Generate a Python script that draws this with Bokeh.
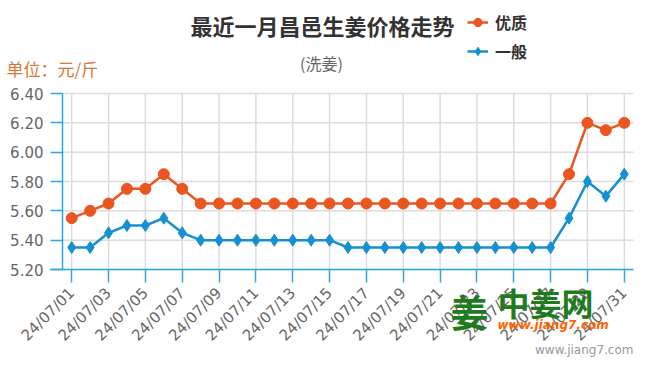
import math
from bokeh.plotting import figure
from bokeh.models import (Range1d, FixedTicker, Label, Legend, LegendItem,
                          NumeralTickFormatter, LinearAxis)
from bokeh.embed import file_html
from bokeh.resources import INLINE

# ---- data ----
dates = ["24/07/01", "24/07/02", "24/07/03", "24/07/04", "24/07/05", "24/07/06",
         "24/07/07", "24/07/08", "24/07/09", "24/07/10", "24/07/11", "24/07/12",
         "24/07/13", "24/07/14", "24/07/15", "24/07/16", "24/07/17", "24/07/18",
         "24/07/19", "24/07/20", "24/07/21", "24/07/22", "24/07/23", "24/07/24",
         "24/07/25", "24/07/26", "24/07/27", "24/07/28", "24/07/29", "24/07/30",
         "24/07/31"]
premium = [5.55, 5.60, 5.65, 5.75, 5.75, 5.85, 5.75, 5.65, 5.65, 5.65, 5.65, 5.65,
           5.65, 5.65, 5.65, 5.65, 5.65, 5.65, 5.65, 5.65, 5.65, 5.65, 5.65, 5.65,
           5.65, 5.65, 5.65, 5.85, 6.20, 6.15, 6.20]
general = [5.35, 5.35, 5.45, 5.50, 5.50, 5.55, 5.45, 5.40, 5.40, 5.40, 5.40, 5.40,
           5.40, 5.40, 5.40, 5.35, 5.35, 5.35, 5.35, 5.35, 5.35, 5.35, 5.35, 5.35,
           5.35, 5.35, 5.35, 5.55, 5.80, 5.70, 5.85]
y_ticks = [5.20, 5.40, 5.60, 5.80, 6.00, 6.20, 6.40]
series_names = ["优质", "一般"]

# ---- style / layout ----
ORANGE = "#ea5520"
BLUE = "#1590d0"
AXIS_BLUE = "#2aa8df"
GRID = "#dcdcdc"
CJK = "Noto Sans CJK SC"
W, H = 634, 357
PX_L, PX_R, PX_T, PX_B = 62, 633, 93, 269   # plot area in pixels

x = list(range(len(dates)))
x_ticks = x[::2]
x_lo, x_hi = -0.5, len(dates) - 0.5
y_lo, y_hi = y_ticks[0], y_ticks[-1]

xu = (x_hi - x_lo) / (PX_R - PX_L)
yu = (y_hi - y_lo) / (PX_B - PX_T)
x_start = x_lo - PX_L * xu
y_end = y_hi + PX_T * yu

p = figure(width=W, height=H, output_backend="svg", toolbar_location=None,
           x_range=Range1d(x_start, x_start + W * xu),
           y_range=Range1d(y_end - H * yu, y_end),
           x_axis_type=None, y_axis_type=None, min_border=0)
p.outline_line_color = None
p.background_fill_color = "white"
p.border_fill_color = "white"

# grid lines of the plot area
p.segment(x0=[x_lo] * len(y_ticks), y0=y_ticks, x1=[x_hi] * len(y_ticks), y1=y_ticks,
          line_color=GRID, line_width=1.5)
p.segment(x0=x_ticks, y0=[y_lo] * len(x_ticks), x1=x_ticks, y1=[y_hi] * len(x_ticks),
          line_color=GRID, line_width=1.5)

# axes at the plot-area edges
yaxis = LinearAxis(fixed_location=x_lo, bounds=(y_lo, y_hi),
                   ticker=FixedTicker(ticks=y_ticks),
                   formatter=NumeralTickFormatter(format="0.00"))
xaxis = LinearAxis(fixed_location=y_lo, bounds=(x_lo - 12 * xu, x_hi),
                   ticker=FixedTicker(ticks=x_ticks),
                   major_label_overrides={i: dates[i] for i in x_ticks},
                   major_label_orientation=math.pi / 4)
for ax in (xaxis, yaxis):
    ax.axis_line_color = AXIS_BLUE
    ax.axis_line_width = 1.5
    ax.major_tick_line_color = AXIS_BLUE
    ax.major_tick_line_width = 1.5
    ax.major_tick_in = 0
    ax.minor_tick_line_color = None
    ax.major_label_text_color = "#666666"
    ax.major_label_text_font = "DejaVu Sans"
    ax.major_label_text_font_size = "15px"
yaxis.major_tick_out = 12
yaxis.major_label_standoff = 7
xaxis.major_tick_out = 13
xaxis.major_label_standoff = 8
p.add_layout(yaxis, "left")
p.add_layout(xaxis, "below")

# series
l1 = p.line(x, premium, line_color=ORANGE, line_width=2.5)
s1 = p.scatter(x, premium, marker="circle", size=11, fill_color=ORANGE, line_color=ORANGE)
l2 = p.line(x, general, line_color=BLUE, line_width=2.5)
s2 = p.scatter(x, general, marker="diamond", size=12,
               fill_color=BLUE, line_color=BLUE)

legend = Legend(items=[LegendItem(label=series_names[0], renderers=[l1, s1]),
                       LegendItem(label=series_names[1], renderers=[l2, s2])],
                location=(467, H - 63), orientation="vertical",
                background_fill_alpha=0, border_line_color=None,
                padding=0, margin=0, spacing=5,
                glyph_width=21, glyph_height=22, label_height=22, label_standoff=7,
                label_text_font=CJK, label_text_font_size="16px",
                label_text_font_style="bold", label_text_color="#333333")
p.add_layout(legend, "center")


def lab(text, px, py, size, color, align="left", style="normal", font=CJK):
    """Text placed by pixel position (px from left, py from top)."""
    p.add_layout(Label(x=px, y=H - py, x_units="screen", y_units="screen", text=text,
                       text_font=font, text_font_size=size, text_color=color,
                       text_align=align, text_baseline="middle", text_font_style=style))


lab("最近一月昌邑生姜价格走势", 322, 24, "22px", "#333333", align="center", style="bold")
lab("(洗姜)", 321, 62, "16px", "#666666", align="center")
lab("单位：元/斤", 6, 68, "17px", "#d9773a")

# watermark
lab("姜", 450, 310, "38px", "#1e7b1e", style="bold")
lab("中姜网", 497, 301, "32px", "#1e7b1e", style="bold")
lab("www.jiang7.com", 497, 324, "12px", "#ff6600", style="bold italic", font="DejaVu Sans")
lab("www.jiang7.com", 633, 349, "12px", "#999999", align="right", font="DejaVu Sans")

open("out.html", "w").write(file_html(p, INLINE))
